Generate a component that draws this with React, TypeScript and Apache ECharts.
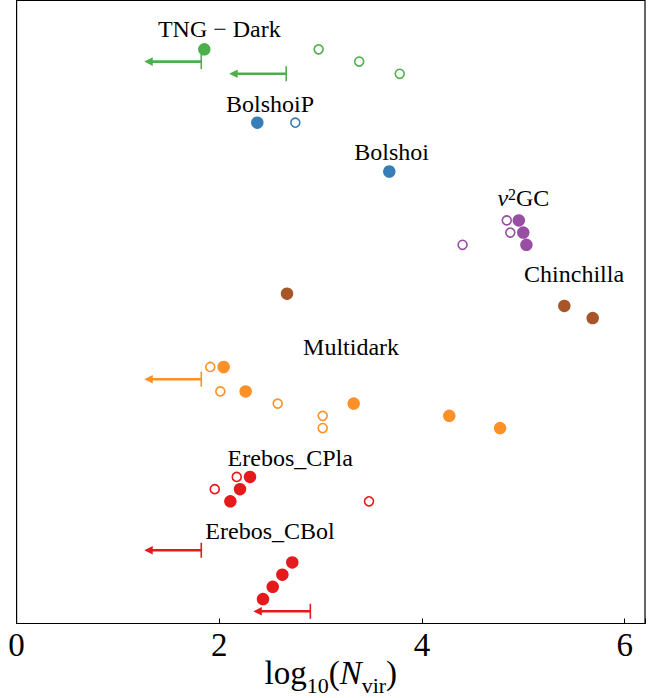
import React, { useEffect, useRef } from "react";
import * as echarts from "echarts";

const FONT = '"Liberation Serif", "DejaVu Serif", serif';

// colours
const C_TNG = "#4daf4a";
const C_BOLSHOI = "#377eb8";
const C_NU2GC = "#984ea3";
const C_CHIN = "#a65628";
const C_MD = "#fd9026";
const C_EREBOS = "#e41a1c";

// [log10(Nvir), row]
const tngFilled = [[1.852, 0]];
const tngOpen = [[2.98, 0], [3.38, 1], [3.78, 2]];
const tngLimits = [[1.822, 1], [2.66, 2]];

const bolshoiPFilled = [[2.375, 6]];
const bolshoiPOpen = [[2.75, 6]];

const bolshoiFilled = [[3.677, 10]];

const nu2gcFilled = [[4.955, 14], [4.999, 15], [5.03, 16]];
const nu2gcOpen = [[4.836, 14], [4.871, 15], [4.40, 16]];

const chinchillaFilled = [[2.668, 20], [5.404, 21], [5.684, 22]];

const multidarkFilled = [[2.043, 26], [2.26, 28], [3.326, 29], [4.269, 30], [4.77, 31]];
const multidarkOpen = [[1.911, 26], [2.01, 28], [2.576, 29], [3.02, 30], [3.02, 31]];
const multidarkLimits = [[1.822, 27]];

const cplaFilled = [[2.303, 35], [2.204, 36], [2.109, 37]];
const cplaOpen = [[2.172, 35], [1.955, 36], [3.477, 37]];

const cbolFilled = [[2.72, 42], [2.622, 43], [2.527, 44], [2.431, 45]];
const cbolLimits = [[1.822, 41], [2.898, 46]];

// group labels
const labelTexts = [
  "TNG − Dark",
  "BolshoiP",
  "Bolshoi",
  "{i|ν}{sup|2}{r|GC}",
  "Chinchilla",
  "Multidark",
  "Erebos_CPla",
  "Erebos_CBol",
];
const labelX = [2.0, 2.5, 3.7, 5.0, 5.5, 3.3, 2.7, 2.5];
const labelRow = [-1.65, 4.45, 8.4, 12.35, 18.4, 24.35, 33.45, 39.45];

const xTicks = [0, 2, 4, 6];

function filledSeries(data: number[][], color: string) {
  return {
    type: "scatter",
    data,
    symbol: "circle",
    symbolSize: 12.5,
    itemStyle: { color, opacity: 1 },
    silent: true,
    z: 4,
  };
}

function openSeries(data: number[][], color: string) {
  return {
    type: "scatter",
    data,
    symbol: "circle",
    symbolSize: 9,
    itemStyle: { color: "#ffffff", borderColor: color, borderWidth: 1.6, opacity: 1 },
    silent: true,
    z: 4,
  };
}

function limitSeries(data: number[][], color: string) {
  return {
    type: "custom",
    data,
    silent: true,
    z: 3,
    renderItem: (params: any, api: any) => {
      const p = api.coord([api.value(0), api.value(1)]);
      const tip = p[0] - 57;
      return {
        type: "group",
        children: [
          {
            type: "line",
            shape: { x1: p[0], y1: p[1], x2: tip + 6, y2: p[1] },
            style: { stroke: color, lineWidth: 2.6 },
          },
          {
            type: "line",
            shape: { x1: p[0], y1: p[1] - 7.5, x2: p[0], y2: p[1] + 7.5 },
            style: { stroke: color, lineWidth: 1.6 },
          },
          {
            type: "polygon",
            shape: { points: [[tip, p[1]], [tip + 8.5, p[1] - 4.3], [tip + 8.5, p[1] + 4.3]] },
            style: { fill: color },
          },
        ],
      };
    },
  };
}

const LBL = 24;

const labelSeries = {
  type: "custom",
  data: labelX.map((x, i) => [x, labelRow[i]]),
  silent: true,
  z: 5,
  renderItem: (params: any, api: any) => {
    const p = api.coord([api.value(0), api.value(1)]);
    return {
      type: "text",
      x: p[0],
      y: p[1],
      style: {
        text: labelTexts[params.dataIndex],
        fill: "#000",
        fontSize: LBL,
        fontFamily: FONT,
        align: "center",
        verticalAlign: "middle",
        rich: {
          i: { fontSize: LBL, fontFamily: FONT, fontStyle: "italic", fill: "#000", lineHeight: 28, verticalAlign: "top" },
          sup: { fontSize: 16, fontFamily: FONT, fill: "#000", lineHeight: 16, verticalAlign: "top" },
          r: { fontSize: LBL, fontFamily: FONT, fill: "#000", lineHeight: 28, verticalAlign: "top" },
        },
      },
    };
  },
};

export default function App() {
  const ref = useRef<HTMLDivElement>(null);
  useEffect(() => {
    if (!ref.current) return;
    const chart = echarts.init(ref.current, undefined, { renderer: "svg" });
    chart.setOption({
      animation: false,
      backgroundColor: "#ffffff",
      textStyle: { fontFamily: FONT },
      grid: {
        left: 16.6,
        top: 0.5,
        width: 628.4,
        height: 623,
        show: true,
        borderColor: "#000",
        borderWidth: 1.2,
        backgroundColor: "transparent",
        outerBoundsMode: "none",
      },
      xAxis: {
        type: "value",
        min: 0,
        max: 6.2,
        interval: 2,
        splitLine: { show: false },
        axisLine: { show: true, onZero: false, lineStyle: { color: "#000", width: 1.2 } },
        axisTick: { show: true, inside: true, length: 5, lineStyle: { color: "#000", width: 1 } },
        axisLabel: {
          fontSize: 33,
          fontFamily: FONT,
          color: "#000",
          margin: 5,
          formatter: (v: number) => (xTicks.includes(v) ? String(v) : ""),
        },
      },
      yAxis: {
        type: "value",
        min: -4,
        max: 47,
        inverse: true,
        show: false,
        splitLine: { show: false },
      },
      graphic: [
        {
          type: "text",
          x: 330.8,
          y: 674,
          style: {
            text: "{a|log}{s|10}{a|(}{i|N}{s|vir}{a|)}",
            align: "center",
            verticalAlign: "middle",
            fill: "#000",
            fontFamily: FONT,
            fontSize: 33,
            rich: {
              a: { fontSize: 33, fontFamily: FONT, fill: "#000", lineHeight: 36, verticalAlign: "top" },
              i: { fontSize: 33, fontFamily: FONT, fontStyle: "italic", fill: "#000", lineHeight: 36, verticalAlign: "top" },
              s: { fontSize: 22, fontFamily: FONT, fill: "#000", lineHeight: 22, padding: [18, 0, 0, 0], verticalAlign: "top" },
            },
          },
        },
      ],
      series: [
        filledSeries(tngFilled, C_TNG),
        openSeries(tngOpen, C_TNG),
        limitSeries(tngLimits, C_TNG),
        filledSeries(bolshoiPFilled, C_BOLSHOI),
        openSeries(bolshoiPOpen, C_BOLSHOI),
        filledSeries(bolshoiFilled, C_BOLSHOI),
        filledSeries(nu2gcFilled, C_NU2GC),
        openSeries(nu2gcOpen, C_NU2GC),
        filledSeries(chinchillaFilled, C_CHIN),
        filledSeries(multidarkFilled, C_MD),
        openSeries(multidarkOpen, C_MD),
        limitSeries(multidarkLimits, C_MD),
        filledSeries(cplaFilled, C_EREBOS),
        openSeries(cplaOpen, C_EREBOS),
        filledSeries(cbolFilled, C_EREBOS),
        limitSeries(cbolLimits, C_EREBOS),
        labelSeries,
      ],
    });
    return () => chart.dispose();
  }, []);
  return (
    <div
      ref={ref}
      style={{ position: "fixed", left: 0, top: 0, width: 660, height: 698, background: "#fff" }}
    />
  );
}
